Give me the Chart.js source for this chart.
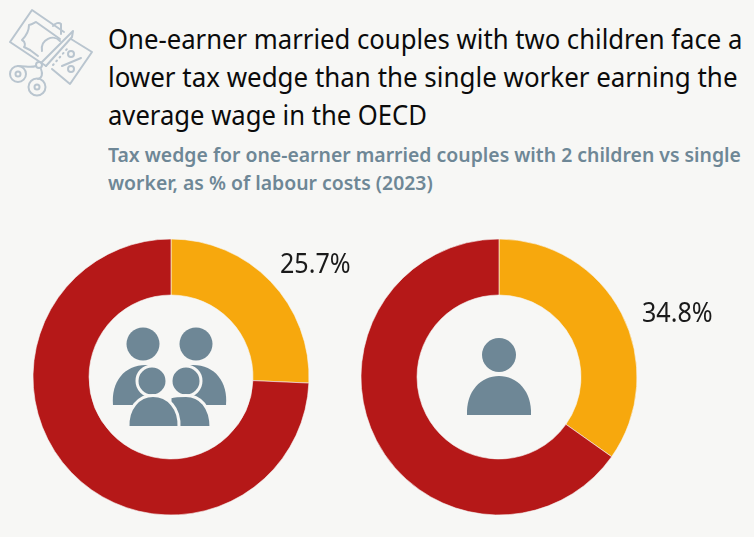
<!DOCTYPE html>
<html>
<head>
  <meta charset="utf-8" />
  <title>Tax wedge</title>
  <script src="https://cdn.jsdelivr.net/npm/chart.js"></script>
  <style>
    html, body { margin: 0; padding: 0; background: #f7f7f5; }
    #page { position: relative; width: 754px; height: 537px; overflow: hidden; font-family: "Noto Sans", sans-serif; }
    #page div, #page canvas, #page svg { position: absolute; }
    .line { white-space: nowrap; transform-origin: left top; }
    .title { left: 108px; font-size: 28px; line-height: 38px; color: #0b0b0b; }
    .sub { left: 108px; font-size: 20px; line-height: 28px; font-weight: 600; color: #6e8796; }
    .val { font-size: 27px; line-height: 30px; color: #1a1a1a; transform: scaleX(0.93); }
  </style>
</head>
<body>
<div id="page">
  <svg id="logo" style="left:0;top:0" width="100" height="100" viewBox="0 0 100 100" fill="none" stroke="#b9c5cf" stroke-width="2" stroke-linejoin="round" stroke-linecap="round">
    <path d="M46 66 L10 42 L32 10 L64 32" />
    <path d="M22 40 C26 42 25 46 24 47 L30 50 M22 40 C26 36 29 30 29 25 C33 24 35 22 36 22 L60 39" />
    <path d="M30 50 L38 56" />
    <path d="M42 51 C40 39 54 34 60 41" />
    <path d="M53 26 C55 23 59 22 61 24 L61 34" />
    <path d="M42 62 L71 33 L73 31 L72 37 L46 66" />
    <path d="M71 39 L92 52 L70 84 L52 69" />
    <path d="M53 65 L67 49" stroke-dasharray="1 4" />
    <path d="M62 66 L81 58" />
    <circle cx="71" cy="54" r="3" />
    <circle cx="71" cy="69" r="3" />
    <circle cx="39" cy="65" r="3" />
    <path d="M36 66 C30 68 26 66 18 66" />
    <path d="M41 69 C43 74 42 78 38 79" />
    <circle cx="18" cy="74" r="8" />
    <circle cx="18" cy="74" r="2.5" />
    <circle cx="37" cy="87" r="8.5" />
    <circle cx="37" cy="87" r="2.5" />
  </svg>

  <div class="title line" style="top:19px;transform:scaleX(0.917)">One-earner married couples with two children face a</div>
  <div class="title line" style="top:57px;transform:scaleX(0.926)">lower tax wedge than the single worker earning the</div>
  <div class="title line" style="top:95px;transform:scaleX(0.915)">average wage in the OECD</div>
  <div class="sub line" style="top:141px;transform:scaleX(0.97)">Tax wedge for one-earner married couples with 2 children vs single</div>
  <div class="sub line" style="top:169px;transform:scaleX(0.97)">worker, as % of labour costs (2023)</div>

  <canvas id="chartFamily" width="300" height="300" style="left:21px;top:227px"></canvas>
  <canvas id="chartSingle" width="300" height="300" style="left:349px;top:227px"></canvas>

  <div class="val line" style="left:280px;top:248px">25.7%</div>
  <div class="val line" style="left:642px;top:297px">34.8%</div>

  <svg id="iconFamily" style="left:80px;top:310px" width="180" height="130" viewBox="0 0 180 130">
    <g fill="#6e8796">
      <circle cx="63" cy="34" r="16.5" />
      <circle cx="116" cy="34" r="16.5" />
      <path d="M33 95 C31 72 44 55 66 55 L70 55 L70 95 Z" />
      <path d="M146 95 C148 72 135 55 113 55 L110 55 L110 95 Z" />
    </g>
    <g fill="#6e8796" stroke="#f7f7f5" stroke-width="3">
      <circle cx="72" cy="71" r="15" />
      <circle cx="106" cy="71" r="15" />
      <path d="M90 117.5 L90 87 C96 85.5 102 85.5 106 85.5 C120 85.5 131 97 131 117.5 Z" />
      <path d="M48 117.5 C47 98 59 85.5 73 85.5 C88 85.5 100 98 99 117.5 Z" />
    </g>
  </svg>
  <svg id="iconSingle" style="left:440px;top:320px" width="120" height="110" viewBox="0 0 120 110">
    <g fill="#6e8796">
      <circle cx="59" cy="35" r="17" />
      <path d="M27 95 C26 71 41 56 59 56 C77 56 92 71 91 95 Z" />
    </g>
  </svg>
</div>
<script>
  var segmentLabels = ['Tax wedge', 'Rest of labour costs'];
  var familyValues = [25.7, 74.3];
  var singleValues = [34.8, 65.2];
  var segmentColors = ['#f7a80d', '#b51818'];

  function makeDoughnut(id, values) {
    new Chart(document.getElementById(id), {
      type: 'doughnut',
      data: {
        labels: segmentLabels,
        datasets: [{
          data: values,
          backgroundColor: segmentColors,
          borderColor: '#f7f7f5',
          borderWidth: 0.6
        }]
      },
      options: {
        responsive: false,
        animation: false,
        radius: 138,
        cutout: '59.4%',
        plugins: {
          legend: { display: false },
          tooltip: { enabled: false }
        }
      }
    });
  }

  makeDoughnut('chartFamily', familyValues);
  makeDoughnut('chartSingle', singleValues);
</script>
</body>
</html>
